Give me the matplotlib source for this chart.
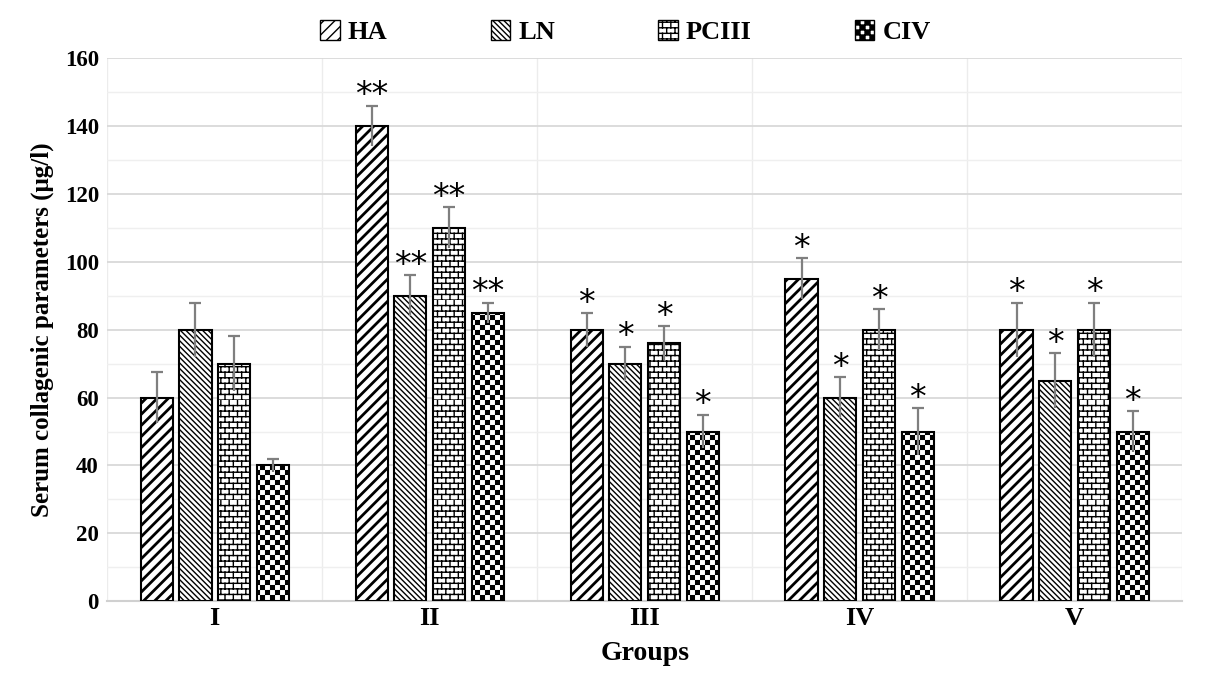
import warnings
import numpy as np
import matplotlib
matplotlib.use("Agg")
import matplotlib.pyplot as plt
import matplotlib.hatch as mhatch
from matplotlib.path import Path
from matplotlib.patches import Patch

warnings.filterwarnings("ignore")

# --- Data ---
groups = ["I", "II", "III", "IV", "V"]
series = ["HA", "LN", "PCIII", "CIV"]
ha = [60, 140, 80, 95, 80]
ln = [80, 90, 70, 60, 65]
pc3 = [70, 110, 76, 80, 80]
civ = [40, 85, 50, 50, 50]
ha_err = [7.5, 6, 5, 6, 8]
ln_err = [8, 6, 5, 6, 8]
pc3_err = [8, 6, 5, 6, 8]
civ_err = [2, 3, 5, 7, 6]
ha_sig = ["", "**", "*", "*", "*"]
ln_sig = ["", "**", "*", "*", "*"]
pc3_sig = ["", "**", "*", "*", "*"]
civ_sig = ["", "**", "*", "*", "*"]


# --- custom hatches: brick ('b') and checkerboard ('c') ---
class BrickHatch(mhatch.HatchPatternBase):
    rows, cols = 18, 12

    def __init__(self, hatch, density):
        self.on = "b" in hatch
        self.num_vertices = (self.rows * 2 + self.rows * self.cols * 2) if self.on else 0

    def set_vertices_and_codes(self, vertices, codes):
        v, c = [], []
        dy = 1.0 / self.rows
        dx = 1.0 / self.cols
        for r in range(self.rows):
            y = r * dy
            v += [(0, y), (1, y)]
            c += [Path.MOVETO, Path.LINETO]
        for r in range(self.rows):
            y = r * dy
            off = 0 if r % 2 == 0 else dx / 2
            for k in range(self.cols):
                xx = k * dx + off
                v += [(xx, y), (xx, y + dy)]
                c += [Path.MOVETO, Path.LINETO]
        vertices[:] = v
        codes[:] = c


class CheckerHatch(mhatch.HatchPatternBase):
    n = 20

    def __init__(self, hatch, density):
        self.on = "c" in hatch
        cnt = (self.n * self.n + 1) // 2
        self.num_vertices = cnt * 5 if self.on else 0
        self.filled = True

    def set_vertices_and_codes(self, vertices, codes):
        v, c = [], []
        s = 1.0 / self.n
        for i in range(self.n):
            for j in range(self.n):
                if (i + j) % 2 == 0:
                    x0, y0 = i * s, j * s
                    v += [(x0, y0), (x0 + s, y0), (x0 + s, y0 + s), (x0, y0 + s), (x0, y0)]
                    c += [Path.MOVETO, Path.LINETO, Path.LINETO, Path.LINETO, Path.CLOSEPOLY]
        vertices[:] = v
        codes[:] = c


mhatch._hatch_types.append(BrickHatch)
mhatch._hatch_types.append(CheckerHatch)

plt.rcParams["font.family"] = ["Liberation Serif", "DejaVu Serif"]
plt.rcParams["font.weight"] = "bold"

hatches = ["///", "\\\\\\\\\\\\", "b", "c"]
hatch_lw = [2.0, 1.0, 1.0, 0.05]
values = [ha, ln, pc3, civ]
errors = [ha_err, ln_err, pc3_err, civ_err]
sigs = [ha_sig, ln_sig, pc3_sig, civ_sig]

fig = plt.figure(figsize=(12.05, 6.84), dpi=100)
ax = fig.add_axes([0.089, 0.121, 0.892, 0.794])

x = np.arange(len(groups))
step = 0.18
width = 0.15

for i, name in enumerate(series):
    xs = x + (i - 1.5) * step
    bars = ax.bar(xs, values[i], width, color="white", edgecolor="black",
                  linewidth=1.5, hatch=hatches[i], zorder=3)
    for b in bars:
        if hasattr(b, "set_hatch_linewidth"):
            b.set_hatch_linewidth(hatch_lw[i])
    top = np.array(values[i]) + np.array(errors[i])
    ax.vlines(xs, np.array(values[i]) - np.array(errors[i]), top,
              color="#7f7f7f", linewidth=1.6, zorder=4)
    ax.plot(xs, top, linestyle="none", marker="_", markersize=9,
            markeredgewidth=1.6, color="#7f7f7f", zorder=4)
    for xi, ti, s in zip(xs, top, sigs[i]):
        if s:
            ax.text(xi, ti - 2.0, s, ha="center", va="bottom", fontsize=24,
                    family="DejaVu Sans", fontweight="normal", zorder=5)

ax.set_xlim(-0.5, 4.5)
ax.set_ylim(0, 160)
ax.set_yticks(np.arange(0, 161, 20))
ax.set_yticks(np.arange(10, 160, 20), minor=True)
ax.set_xticks(x)
ax.set_xticklabels(groups, fontsize=19, fontweight="bold")
ax.set_xticks(np.arange(-0.5, 4.6, 0.5), minor=True)
ax.tick_params(axis="y", labelsize=16.5, length=0, pad=6)
ax.tick_params(axis="x", length=0, pad=4)
ax.tick_params(which="minor", length=0)

ax.grid(axis="y", which="major", color="#d9d9d9", linewidth=1.3, zorder=0)
ax.grid(axis="y", which="minor", color="#efefef", linewidth=1.0, zorder=0)
ax.grid(axis="x", which="minor", color="#ececec", linewidth=1.0, zorder=0)
ax.set_axisbelow(True)
for sp in ["top", "right", "left"]:
    ax.spines[sp].set_visible(False)
ax.spines["bottom"].set_color("#d0d0d0")
ax.spines["bottom"].set_linewidth(1.5)

ax.set_ylabel("Serum collagenic parameters (μg/l)", fontsize=18, fontweight="bold", labelpad=8)
ax.set_xlabel("Groups", fontsize=20, fontweight="bold", labelpad=8)

handles = [Patch(facecolor="white", edgecolor="black", hatch=h) for h in hatches]
leg = fig.legend(handles, series, loc="upper center", bbox_to_anchor=(0.519, 1.005), ncol=4,
                 frameon=False, fontsize=19, columnspacing=3.9, handlelength=0.75,
                 handleheight=0.75, handletextpad=0.3)
for t in leg.get_texts():
    t.set_fontweight("bold")

fig.savefig("out.png", dpi=100)
